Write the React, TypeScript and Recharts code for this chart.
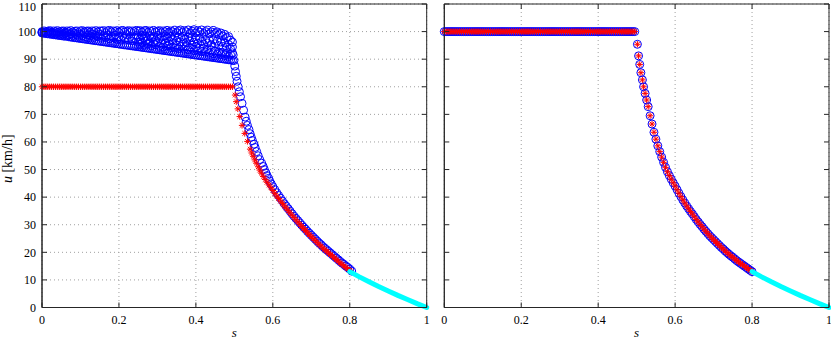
import React from 'react';
import { ScatterChart, Scatter, XAxis, YAxis, CartesianGrid } from 'recharts';

const FONT = '"Liberation Serif", serif';

const S_TICKS = [0, 0.2, 0.4, 0.6, 0.8, 1];
const U_TICKS = [0, 10, 20, 30, 40, 50, 60, 70, 80, 90, 100, 110];
const S_MAX = 1;
const U_MAX = 110;

// sample positions of the free-flow part (s < 0.5)
const flatS = [
  0, 0.005, 0.01, 0.015, 0.02, 0.025, 0.03, 0.035, 0.04, 0.045,
  0.05, 0.055, 0.06, 0.065, 0.07, 0.075, 0.08, 0.085, 0.09, 0.095,
  0.1, 0.105, 0.11, 0.115, 0.12, 0.125, 0.13, 0.135, 0.14, 0.145,
  0.15, 0.155, 0.16, 0.165, 0.17, 0.175, 0.18, 0.185, 0.19, 0.195,
  0.2, 0.205, 0.21, 0.215, 0.22, 0.225, 0.23, 0.235, 0.24, 0.245,
  0.25, 0.255, 0.26, 0.265, 0.27, 0.275, 0.28, 0.285, 0.29, 0.295,
  0.3, 0.305, 0.31, 0.315, 0.32, 0.325, 0.33, 0.335, 0.34, 0.345,
  0.35, 0.355, 0.36, 0.365, 0.37, 0.375, 0.38, 0.385, 0.39, 0.395,
  0.4, 0.405, 0.41, 0.415, 0.42, 0.425, 0.43, 0.435, 0.44, 0.445,
  0.45, 0.455, 0.46, 0.465, 0.47, 0.475, 0.48, 0.485, 0.49, 0.495,
];

const LEFT_RED_LEVEL = 80;
const RIGHT_LEVEL = 100;

// left panel: scattered blue speeds, one list per entry of flatS
const leftCloudU = [
  [100.0, 99.7, 99.5], [100.2, 99.6, 99.4], [99.9, 99.8, 99.3], [100.1, 99.5, 99.2],
  [100.3, 99.9, 99.1], [99.8, 99.4, 99.0], [100.2, 99.6, 98.9], [100.0, 99.2, 98.8],
  [100.3, 99.7, 98.7], [99.9, 99.1, 98.6], [100.1, 99.5, 98.5], [100.2, 98.9, 98.4],
  [99.7, 99.3, 98.3], [100.2, 99.6, 98.4], [100.0, 98.8, 98.1], [100.3, 99.2, 98.0],
  [99.8, 98.6, 97.9], [100.1, 99.4, 97.8], [100.2, 98.9, 97.7], [99.6, 98.3, 97.6],
  [100.2, 99.0, 97.5], [100.3, 98.5, 97.4], [99.9, 99.3, 97.3], [100.1, 98.1, 97.2],
  [100.2, 98.8, 97.1], [99.7, 98.4, 97.0], [100.2, 99.1, 96.9], [100.0, 97.9, 96.8],
  [100.3, 98.6, 96.7], [99.8, 98.2, 96.6], [100.2, 99.0, 96.5], [100.1, 97.6, 96.4],
  [100.3, 98.5, 96.3], [99.6, 97.9, 96.2], [100.2, 98.8, 96.1], [100.4, 97.4, 96.0],
  [99.9, 98.3, 95.9], [100.2, 97.8, 95.8], [100.0, 98.7, 95.7], [100.3, 97.2, 95.6],
  [99.7, 98.1, 95.5], [100.2, 96.9, 95.4], [100.4, 98.4, 95.3], [99.8, 97.6, 95.2],
  [100.1, 98.9, 95.1], [100.3, 97.0, 95.0], [99.9, 98.2, 94.9], [100.2, 96.6, 94.8],
  [100.0, 97.8, 94.7], [100.4, 98.6, 94.6],
  [100.1, 98.0, 96.2, 94.5], [100.3, 97.3, 95.4, 94.4], [99.8, 98.7, 96.0, 94.3],
  [100.2, 97.5, 95.1, 94.2], [100.4, 98.3, 96.6, 94.1], [99.7, 97.1, 95.5, 94.0],
  [100.2, 98.5, 96.3, 93.9], [100.0, 97.7, 94.9, 93.8], [100.4, 98.1, 96.0, 93.7],
  [99.9, 96.8, 95.2, 93.6], [100.1, 98.6, 96.4, 93.5], [100.3, 97.4, 94.7, 93.4],
  [99.6, 98.0, 95.8, 93.3], [100.2, 96.9, 94.4, 93.2], [99.9, 98.4, 95.9, 93.1],
  [100.4, 97.6, 94.8, 93.0], [99.7, 96.5, 95.3, 92.9], [100.2, 98.2, 94.2, 92.8],
  [99.9, 97.0, 95.6, 92.7], [100.5, 98.5, 94.0, 92.6], [99.6, 96.7, 95.1, 92.5],
  [100.2, 97.9, 93.8, 92.4], [100.6, 96.3, 94.6, 92.3], [99.7, 98.3, 95.4, 92.2],
  [100.3, 97.2, 93.6, 92.1], [99.9, 96.0, 94.9, 92.0], [100.6, 98.0, 93.4, 91.9],
  [99.4, 96.6, 94.3, 91.8], [100.1, 97.8, 95.2, 91.7], [100.7, 96.2, 93.1, 91.6],
  [99.5, 97.4, 94.5, 91.5], [100.3, 95.8, 92.9, 91.4], [99.8, 97.6, 94.0, 91.3],
  [100.6, 96.4, 92.7, 91.2], [99.3, 95.5, 93.9, 91.1], [100.0, 97.1, 92.5, 91.0],
  [100.5, 95.9, 93.7, 90.9], [99.2, 96.8, 92.2, 90.8], [99.9, 95.2, 93.3, 90.7],
  [100.4, 97.0, 92.0, 90.6], [99.3, 95.6, 93.0, 90.5], [99.9, 96.5, 91.8, 90.4],
  [98.9, 94.9, 92.6, 90.3], [99.5, 96.2, 91.6, 90.2], [98.4, 94.6, 92.4, 90.1],
  [99.0, 95.9, 91.3, 90.0], [97.8, 94.3, 92.1, 89.9], [98.2, 95.3, 91.0, 89.8],
  [96.9, 93.8, 91.7, 89.7], [96.2, 94.4, 92.3, 89.6],
];

// left panel: congested branch
const leftBlueDropS = [
  0.497, 0.499, 0.501, 0.503, 0.505, 0.507, 0.51, 0.513, 0.516, 0.52,
  0.524, 0.528, 0.531, 0.534, 0.538, 0.541, 0.544, 0.547, 0.551, 0.554,
  0.558, 0.562, 0.566, 0.571, 0.575, 0.578, 0.582, 0.585, 0.589, 0.592,
  0.596, 0.6, 0.605, 0.61, 0.615, 0.62, 0.625, 0.63, 0.635, 0.64,
  0.645, 0.65, 0.655, 0.66, 0.665, 0.67, 0.675, 0.68, 0.685, 0.69,
  0.695, 0.7, 0.705, 0.71, 0.715, 0.72, 0.725, 0.73, 0.735, 0.74,
  0.745, 0.75, 0.755, 0.76, 0.765, 0.77, 0.775, 0.78, 0.785, 0.79,
  0.795, 0.8, 0.805,
];
const leftBlueDropU = [
  91.5, 89.5, 87.5, 85.5, 83.8, 82, 80, 78.2, 76.4, 74,
  71.5, 69, 67.5, 66, 64.5, 63, 61.7, 60.5, 59.2, 58,
  56.5, 55, 53.6, 52.3, 51.1, 50, 48.8, 47.8, 46.8, 45.8,
  44.8, 43.8, 42.7, 41.6, 40.6, 39.6, 38.6, 37.6, 36.7, 35.8,
  34.9, 34.0, 33.1, 32.3, 31.5, 30.7, 29.9, 29.1, 28.4, 27.6,
  26.9, 26.2, 25.5, 24.8, 24.1, 23.4, 22.8, 22.1, 21.5, 20.9,
  20.3, 19.7, 19.1, 18.5, 17.9, 17.3, 16.7, 16.1, 15.6, 15.0,
  14.5, 13.9, 13.2,
];

const leftRedDropS = [
  0.502, 0.505, 0.509, 0.514, 0.52, 0.527, 0.534, 0.541, 0.545, 0.549,
  0.553, 0.557, 0.562, 0.566, 0.57, 0.575, 0.58, 0.585, 0.59, 0.595,
  0.6, 0.605, 0.61, 0.615, 0.62, 0.625, 0.63, 0.635, 0.64, 0.645,
  0.65, 0.655, 0.66, 0.665, 0.67, 0.675, 0.68, 0.685, 0.69, 0.695,
  0.7, 0.705, 0.71, 0.715, 0.72, 0.725, 0.73, 0.735, 0.74, 0.745,
  0.75, 0.755, 0.76, 0.765, 0.77, 0.775, 0.78, 0.785, 0.79, 0.795,
  0.8, 0.803,
];
const leftRedDropU = [
  77, 74.6, 72, 69.2, 66, 63.1, 60.2, 57.4, 56, 54.8,
  53.5, 52.3, 51, 49.8, 48.7, 47.5, 46.4, 45.4, 44.4, 43.4,
  42.4, 41.4, 40.4, 39.5, 38.6, 37.7, 36.8, 36, 35.1, 34.3,
  33.4, 32.6, 31.8, 31, 30.2, 29.4, 28.6, 27.9, 27.1, 26.4,
  25.7, 25, 24.3, 23.6, 22.9, 22.3, 21.6, 21, 20.4, 19.8,
  19.2, 18.6, 18, 17.4, 16.8, 16.2, 15.6, 15.1, 14.5, 14,
  13.4, 13,
];

// right panel: both series on the same congested branch
const rightCurveS = [
  0.502, 0.505, 0.508, 0.511, 0.515, 0.518, 0.522, 0.526, 0.53, 0.535,
  0.54, 0.545, 0.55, 0.555, 0.56, 0.565, 0.57, 0.575, 0.58, 0.585,
  0.59, 0.595, 0.6, 0.605, 0.61, 0.615, 0.62, 0.625, 0.63, 0.635,
  0.64, 0.645, 0.65, 0.655, 0.66, 0.665, 0.67, 0.675, 0.68, 0.685,
  0.69, 0.695, 0.7, 0.705, 0.71, 0.715, 0.72, 0.725, 0.73, 0.735,
  0.74, 0.745, 0.75, 0.755, 0.76, 0.765, 0.77, 0.775, 0.78, 0.785,
  0.79, 0.795, 0.8,
];
const rightCurveU = [
  95.4, 91.2, 88.1, 85.1, 82.5, 80, 77.6, 75.2, 72.8, 69.5,
  66.5, 63.5, 61, 58.6, 56.5, 54.5, 52.6, 50.8, 49.2, 47.8,
  46.5, 45.2, 44, 42.7, 41.4, 40.2, 39, 37.9, 36.8, 35.8,
  34.8, 33.9, 32.9, 31.9, 31, 30.1, 29.3, 28.4, 27.6, 26.8,
  26, 25.3, 24.6, 23.9, 23.2, 22.5, 21.8, 21.2, 20.5, 19.9,
  19.3, 18.7, 18.2, 17.6, 17, 16.5, 16, 15.5, 15, 14.5,
  14, 13.5, 13,
];

// cyan tail, same in both panels
const tailS = [0.8, 0.825, 0.85, 0.875, 0.9, 0.925, 0.95, 0.975, 1];
const tailU = [13, 11.1, 9.3, 7.6, 6.0, 4.4, 2.9, 1.4, 0];

const toPoints = (xs: number[], ys: number[]) => xs.map((x, i) => ({ x, y: ys[i] }));

const leftBlue = [
  ...flatS.flatMap((s, i) => leftCloudU[i].map((u) => ({ x: s, y: u }))),
  ...toPoints(leftBlueDropS, leftBlueDropU),
];
const leftRed = [
  ...flatS.map((s) => ({ x: s, y: LEFT_RED_LEVEL })),
  ...toPoints(leftRedDropS, leftRedDropU),
];
const rightBoth = [
  ...flatS.map((s) => ({ x: s, y: RIGHT_LEVEL })),
  ...toPoints(rightCurveS, rightCurveU),
];
const tail = toPoints(tailS, tailU);

// axes box and the inward ticks, placed through the chart scales
const boxCorners = [
  { x: 0, y: 0 }, { x: 0, y: U_MAX }, { x: S_MAX, y: U_MAX }, { x: S_MAX, y: 0 }, { x: 0, y: 0 },
];
const bottomTicks = S_TICKS.map((s) => ({ x: s, y: 0 }));
const topTicks = S_TICKS.map((s) => ({ x: s, y: U_MAX }));
const leftTicks = U_TICKS.map((u) => ({ x: 0, y: u }));
const rightTicks = U_TICKS.map((u) => ({ x: S_MAX, y: u }));

const AXIS = '#262626';
const TICK_LEN = 5;

const BlueCircle = (p: any) => (
  <circle cx={p.cx} cy={p.cy} r={4} fill="none" stroke="#0000ff" strokeWidth={1} />
);

const RedStar = (p: any) => {
  const { cx, cy } = p;
  const a = 3.2;
  const d = 2.3;
  return (
    <g stroke="#ff0000" strokeWidth={1}>
      <line x1={cx - a} y1={cy} x2={cx + a} y2={cy} />
      <line x1={cx} y1={cy - a} x2={cx} y2={cy + a} />
      <line x1={cx - d} y1={cy - d} x2={cx + d} y2={cy + d} />
      <line x1={cx - d} y1={cy + d} x2={cx + d} y2={cy - d} />
    </g>
  );
};

const NoMark = () => <g />;

const tickMark = (dx: number, dy: number) => (p: any) => (
  <line x1={p.cx} y1={p.cy} x2={p.cx + dx * TICK_LEN} y2={p.cy + dy * TICK_LEN} stroke={AXIS} strokeWidth={1} />
);
const UpTick = tickMark(0, -1);
const DownTick = tickMark(0, 1);
const RightTick = tickMark(1, 0);
const LeftTick = tickMark(-1, 0);

// keep the top label fully inside the page
const YTick = (p: any) => (
  <text x={p.x} y={Math.max(p.y + 4.3, 10.5)} textAnchor="end" fontFamily={FONT} fontSize={12} fill="#000">
    {p.payload.value}
  </text>
);

const SLabel = (props: any) => {
  const vb = props.viewBox;
  return (
    <text x={vb.x + vb.width / 2} y={vb.y + 29} textAnchor="middle"
      fontFamily={FONT} fontSize={13} fontStyle="italic" fill="#000">s</text>
  );
};

const ULabel = (props: any) => {
  const vb = props.viewBox;
  const cx = 12;
  const cy = vb.y + vb.height / 2 + 3;
  return (
    <text x={cx} y={cy} transform={`rotate(-90 ${cx} ${cy})`} textAnchor="middle"
      fontFamily={FONT} fontSize={14} fill="#000">
      <tspan fontStyle="italic">u</tspan> [km/h]
    </text>
  );
};

const tickStyle = { fill: '#000', fontSize: 12, fontFamily: FONT };

function Panel(props: {
  blue: { x: number; y: number }[];
  red: { x: number; y: number }[];
  width: number;
  yAxisWidth: number;
  rightMargin: number;
  showYLabels: boolean;
}) {
  const { blue, red, width, yAxisWidth, rightMargin, showYLabels } = props;
  return (
    <ScatterChart width={width} height={339} margin={{ top: 4, right: rightMargin, bottom: 0, left: 0 }}>
      <CartesianGrid stroke="#a0a0a0" strokeDasharray="1 3" />
      <XAxis type="number" dataKey="x" domain={[0, S_MAX]} ticks={S_TICKS} interval={0}
        height={31.5} tickSize={-5} tickMargin={13} tickLine={false} stroke={AXIS} tick={tickStyle}
        label={{ content: SLabel }} />
      <YAxis type="number" dataKey="y" domain={[0, U_MAX]} ticks={U_TICKS} interval={0}
        width={yAxisWidth} tickSize={-5} tickMargin={11} tickLine={false} stroke={AXIS}
        tick={showYLabels ? YTick : false}
        label={showYLabels ? { content: ULabel } : undefined} />
      <Scatter data={blue} shape={BlueCircle} isAnimationActive={false} />
      <Scatter data={red} shape={RedStar} isAnimationActive={false} />
      <Scatter data={tail} shape={NoMark}
        line={{ stroke: '#00ffff', strokeWidth: 5, strokeLinecap: 'round' }}
        isAnimationActive={false} />
      <Scatter data={boxCorners} shape={NoMark} line={{ stroke: AXIS, strokeWidth: 1 }}
        isAnimationActive={false} />
      <Scatter data={bottomTicks} shape={UpTick} isAnimationActive={false} />
      <Scatter data={topTicks} shape={DownTick} isAnimationActive={false} />
      <Scatter data={leftTicks} shape={RightTick} isAnimationActive={false} />
      <Scatter data={rightTicks} shape={LeftTick} isAnimationActive={false} />
    </ScatterChart>
  );
}

export default function App() {
  return (
    <div style={{ position: 'absolute', left: 0, top: 0, width: 831, height: 339, background: '#fff' }}>
      <style>{'.recharts-surface { overflow: visible; }'}</style>
      <div style={{ position: 'absolute', left: 0, top: 0 }}>
        <Panel blue={leftBlue} red={leftRed} width={435} yAxisWidth={42} rightMargin={8.3} showYLabels />
      </div>
      <div style={{ position: 'absolute', left: 435, top: 0 }}>
        <Panel blue={rightBoth} red={rightBoth} width={396} yAxisWidth={9.3} rightMargin={2} showYLabels={false} />
      </div>
    </div>
  );
}
